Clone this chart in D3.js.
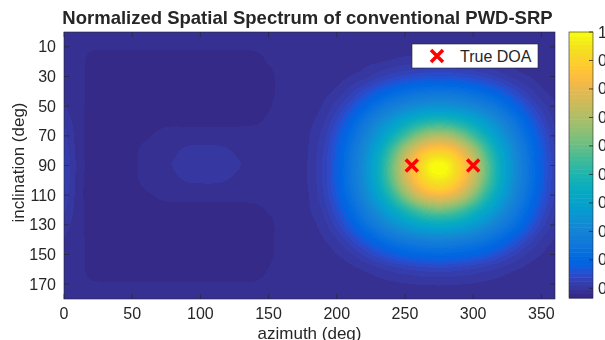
<!DOCTYPE html>
<html>
<head>
<meta charset="utf-8">
<script src="https://cdn.jsdelivr.net/npm/d3@7"></script>
<style>
  body { margin: 0; background: #fff; }
  #wrap { position: relative; width: 605px; height: 340px; overflow: hidden; }
  #heat { position: absolute; }
  svg { position: absolute; left: 0; top: 0; }
  text { font-family: "Liberation Sans", Arial, Helvetica, sans-serif; fill: #262626; }
</style>
</head>
<body>
<div id="wrap"><canvas id="heat"></canvas><svg width="605" height="340"></svg></div>
<script>
// grid the spectrum was read on (deg)
const azimuth = [0, 10, 20, 30, 40, 50, 60, 70, 80, 90, 100, 110, 120, 130, 140, 150, 160, 170, 180,
  190, 200, 210, 220, 230, 240, 250, 260, 270, 280, 290, 300, 310, 320, 330, 340, 350, 360];
const inclination = [0, 10, 20, 30, 40, 50, 60, 70, 80, 90, 100, 110, 120, 130, 140, 150, 160, 170, 180];

// normalized spectrum, one row per inclination, one column per azimuth
const spectrum = [
  [.086, .087,.087,.087,.087,.087,.087,.087,.087,.087,.087,.087,.087,.087,.087,.087,.087, .087,
   .086,.086,.086,.086,.086,.086,.086,.086,.086,.086,.086,.086,.086,.086,.086,.086,.086,.086,.086],
  [.086, .088,.083,.083,.083,.083,.083,.083,.083,.083,.083,.083,.083,.083,.083,.085,.087, .087,
   .086,.086,.086,.086,.086,.087,.088,.088,.089,.089,.089,.089,.088,.088,.087,.086,.086,.086,.086],
  [.086, .088,.074,.072,.072,.072,.072,.072,.072,.072,.072,.072,.072,.072,.074,.082,.087, .087,
   .086,.086,.086,.087,.091,.094,.098,.103,.105,.107,.107,.105,.103,.098,.094,.091,.087,.086,.086],
  [.086, .088,.074,.072,.072,.072,.072,.072,.072,.072,.072,.072,.072,.072,.072,.075,.087, .087,
   .086,.086,.089,.096,.105,.120,.134,.144,.153,.157,.157,.153,.144,.134,.120,.105,.096,.089,.086],
  [.090, .088,.074,.072,.072,.072,.072,.072,.072,.072,.072,.072,.072,.072,.072,.075,.087, .087,
   .086,.090,.099,.119,.145,.174,.200,.221,.235,.242,.242,.235,.221,.200,.174,.145,.119,.099,.090],
  [.097, .088,.074,.072,.072,.072,.072,.072,.072,.072,.072,.072,.072,.072,.073,.079,.087, .088,
   .088,.097,.118,.152,.194,.238,.275,.307,.330,.344,.344,.330,.307,.275,.238,.194,.152,.118,.097],
  [.106, .089,.074,.072,.072,.072,.074,.076,.076,.076,.076,.076,.076,.076,.078,.083,.087, .087,
   .092,.106,.141,.190,.248,.305,.366,.424,.473,.502,.502,.473,.424,.366,.305,.248,.190,.141,.106],
  [.117, .089,.074,.072,.072,.074,.078,.084,.089,.089,.089,.089,.089,.089,.088,.087,.087, .087,
   .095,.117,.161,.220,.287,.366,.456,.554,.645,.700,.700,.645,.554,.456,.366,.287,.220,.161,.117],
  [.124, .090,.074,.072,.072,.076,.086,.089,.093,.097,.098,.098,.096,.092,.089,.088,.087, .088,
   .097,.124,.175,.241,.320,.421,.548,.695,.813,.878,.878,.813,.695,.548,.421,.320,.241,.175,.124],
  [.128, .091,.075,.072,.072,.076,.088,.091,.0955,.099,.101,.101,.099,.095,.091,.089,.088, .088,
   .098,.128,.179,.249,.334,.447,.597,.766,.895,.990,.990,.895,.766,.597,.447,.334,.249,.179,.128],
  [.127, .090,.074,.072,.072,.076,.086,.089,.092,.096,.097,.097,.095,.091,.089,.088,.087, .088,
   .098,.127,.179,.248,.330,.442,.584,.744,.870,.947,.947,.870,.744,.584,.442,.330,.248,.179,.127],
  [.123, .089,.074,.072,.072,.074,.078,.083,.086,.086,.086,.086,.086,.086,.085,.085,.087, .088,
   .096,.123,.170,.235,.309,.403,.515,.645,.757,.818,.818,.757,.645,.515,.403,.309,.235,.170,.123],
  [.113, .089,.074,.073,.073,.073,.075,.075,.075,.075,.075,.075,.075,.075,.077,.082,.087, .087,
   .094,.113,.153,.209,.272,.340,.420,.498,.568,.611,.611,.568,.498,.420,.340,.272,.209,.153,.113],
  [.103, .088,.074,.072,.072,.072,.072,.072,.072,.072,.072,.072,.072,.072,.072,.076,.087, .087,
   .090,.103,.132,.176,.228,.279,.328,.375,.414,.433,.433,.414,.375,.328,.279,.228,.176,.132,.103],
  [.094, .088,.074,.072,.072,.072,.072,.072,.072,.072,.072,.072,.072,.072,.072,.076,.087, .087,
   .087,.094,.109,.137,.173,.210,.244,.270,.287,.298,.298,.287,.270,.244,.210,.173,.137,.109,.094],
  [.088, .088,.074,.072,.072,.072,.072,.072,.072,.072,.072,.072,.072,.072,.072,.077,.087, .087,
   .086,.088,.095,.107,.127,.150,.172,.189,.200,.206,.206,.200,.189,.172,.150,.127,.107,.095,.088],
  [.086, .088,.074,.072,.072,.072,.072,.072,.072,.072,.072,.072,.072,.072,.074,.081,.087, .087,
   .086,.086,.087,.091,.097,.106,.115,.123,.129,.133,.133,.129,.123,.115,.106,.097,.091,.087,.086],
  [.086, .088,.083,.082,.082,.082,.082,.082,.082,.082,.082,.082,.082,.082,.082,.085,.087, .087,
   .086,.086,.086,.086,.088,.090,.092,.094,.096,.097,.097,.096,.094,.092,.090,.088,.086,.086,.086],
  [.086, .087,.087,.087,.087,.087,.087,.087,.087,.087,.087,.087,.087,.087,.087,.087,.087, .087,
   .086,.086,.086,.086,.086,.086,.086,.086,.087,.087,.087,.087,.086,.086,.086,.086,.086,.086,.086]
];

const trueDOA = [{ az: 255, inc: 90 }, { az: 300, inc: 90 }];

const xTicks = [0, 50, 100, 150, 200, 250, 300, 350];
const yTicks = [10, 30, 50, 70, 90, 110, 130, 150, 170];
const cbTicks = [0.1, 0.2, 0.3, 0.4, 0.5, 0.6, 0.7, 0.8, 0.9, 1];
const cLimits = [0.066, 1];

// parula, 64 levels
const parula = ["#352a87","#363093","#3637a0","#353dad","#3243ba","#2c4ac7","#2053d4","#0f5cdd",
  "#0363e1","#0268e1","#046de0","#0871de","#0d75dc","#1079da","#127dd8","#1481d6",
  "#1485d4","#1389d3","#108ed2","#0c93d2","#0998d1","#079ccf","#06a0cd","#06a4ca",
  "#06a7c6","#07a9c2","#0aacbe","#0faeb9","#15b1b4","#1db3af","#25b5a9","#2eb7a4",
  "#38b99e","#42bb98","#4dbc92","#59bd8c","#65be86","#71bf80","#7cbf7b","#87bf77",
  "#92bf73","#9cbf6f","#a5be6b","#aebe67","#b7bd64","#c0bc60","#c8bc5d","#d1bb59",
  "#d9ba56","#e1b952","#e9b94e","#f1b94a","#f8bb44","#fdbe3d","#ffc337","#fec832",
  "#fcce2e","#fad32a","#f7d826","#f5de21","#f5e41d","#f5eb18","#f6f313","#f9fb0e"];

const pl = 64, pr = 555, pt = 32, pb = 299;
const x = d3.scaleLinear().domain([0, 360]).range([pl, pr]);
const y = d3.scaleLinear().domain([0, 180]).range([pt, pb]);
const color = d3.scaleQuantize().domain(cLimits).range(parula);

// heat map: bicubic resample of the grid, azimuth wraps around
const nCol = azimuth.length - 1, nRow = inclination.length;
const step = azimuth[1] - azimuth[0], istep = inclination[1] - inclination[0];
function cell(i, j) {
  i = ((i % nCol) + nCol) % nCol;
  j = Math.max(0, Math.min(nRow - 1, j));
  return spectrum[j][i];
}
function cr(p0, p1, p2, p3, t) {
  return p1 + 0.5 * t * (p2 - p0 + t * (2 * p0 - 5 * p1 + 4 * p2 - p3 + t * (3 * (p1 - p2) + p3 - p0)));
}
function sample(az, inc) {
  const gi = az / step, gj = inc / istep;
  const i = Math.floor(gi), j = Math.floor(gj);
  const t = gi - i, u = gj - j;
  const rows = [-1, 0, 1, 2].map(dj =>
    cr(cell(i - 1, j + dj), cell(i, j + dj), cell(i + 1, j + dj), cell(i + 2, j + dj), t));
  return cr(rows[0], rows[1], rows[2], rows[3], u);
}

const w = pr - pl, h = pb - pt;
const canvas = d3.select("#heat")
  .attr("width", w).attr("height", h)
  .style("left", pl + "px").style("top", pt + "px");
const ctx = canvas.node().getContext("2d");
const img = ctx.createImageData(w, h);
for (let py = 0; py < h; py++) {
  const inc = y.invert(pt + py + 0.5);
  for (let px = 0; px < w; px++) {
    const az = x.invert(pl + px + 0.5);
    const v = Math.min(cLimits[1], Math.max(cLimits[0], sample(az, inc)));
    const c = d3.rgb(color(v));
    const k = (py * w + px) * 4;
    img.data[k] = c.r; img.data[k + 1] = c.g; img.data[k + 2] = c.b; img.data[k + 3] = 255;
  }
}
ctx.putImageData(img, 0, 0);

const svg = d3.select("svg");
const axisColor = "#262626";

// box and inward ticks
svg.append("rect")
  .attr("x", pl).attr("y", pt).attr("width", w).attr("height", h)
  .attr("fill", "none").attr("stroke", axisColor).attr("stroke-width", 0.6);

const tickLen = 5;
svg.append("g").selectAll("path").data(xTicks).join("path")
  .attr("d", d => `M${x(d)},${pb}v${-tickLen}M${x(d)},${pt}v${tickLen}`)
  .attr("stroke", axisColor).attr("stroke-width", 0.6);
svg.append("g").selectAll("path").data(yTicks).join("path")
  .attr("d", d => `M${pl},${y(d)}h${tickLen}M${pr},${y(d)}h${-tickLen}`)
  .attr("stroke", axisColor).attr("stroke-width", 0.6);

svg.append("g").selectAll("text").data(xTicks).join("text")
  .attr("x", d => x(d)).attr("y", 319)
  .attr("text-anchor", "middle").attr("font-size", 16)
  .text(d => d);
svg.append("g").selectAll("text").data(yTicks).join("text")
  .attr("x", 56).attr("y", d => y(d) + 5.5)
  .attr("text-anchor", "end").attr("font-size", 16)
  .text(d => d);

svg.append("text")
  .attr("x", (pl + pr) / 2).attr("y", 339)
  .attr("text-anchor", "middle").attr("font-size", 17)
  .text("azimuth (deg)");
svg.append("text")
  .attr("transform", `translate(24,${(pt + pb) / 2 - 3}) rotate(-90)`)
  .attr("text-anchor", "middle").attr("font-size", 17)
  .text("inclination (deg)");

svg.append("text")
  .attr("x", (pl + pr) / 2 - 2).attr("y", 24)
  .attr("text-anchor", "middle").attr("font-size", 18.5).attr("font-weight", "bold")
  .attr("fill", "#000")
  .text("Normalized Spatial Spectrum of conventional PWD-SRP");

// true DOA markers
const cross = (cx, cy, r) => `M${cx - r},${cy - r}L${cx + r},${cy + r}M${cx - r},${cy + r}L${cx + r},${cy - r}`;
svg.append("g").selectAll("path").data(trueDOA).join("path")
  .attr("d", d => cross(x(d.az), y(d.inc), 6))
  .attr("stroke", "#ff0000").attr("stroke-width", 3.5).attr("fill", "none");

// legend
const lg = svg.append("g").attr("transform", "translate(412,44)");
lg.append("rect").attr("width", 126).attr("height", 24)
  .attr("fill", "#fff").attr("stroke", axisColor).attr("stroke-width", 0.6);
lg.append("path").attr("d", cross(25, 12, 6))
  .attr("stroke", "#ff0000").attr("stroke-width", 3.5).attr("fill", "none");
lg.append("text").attr("x", 48).attr("y", 18).attr("font-size", 16).attr("fill", "#000").text("True DOA");

// colorbar
const cbX = 569, cbW = 24;
const cy = d3.scaleLinear().domain(cLimits).range([298, 32]);
const lvl = (cLimits[1] - cLimits[0]) / parula.length;
svg.append("g").selectAll("rect").data(parula).join("rect")
  .attr("x", cbX).attr("width", cbW)
  .attr("y", (d, i) => cy(cLimits[0] + (i + 1) * lvl))
  .attr("height", (d, i) => cy(cLimits[0] + i * lvl) - cy(cLimits[0] + (i + 1) * lvl) + 0.5)
  .attr("fill", d => d);
svg.append("rect")
  .attr("x", cbX).attr("y", cy(cLimits[1])).attr("width", cbW).attr("height", cy(cLimits[0]) - cy(cLimits[1]))
  .attr("fill", "none").attr("stroke", axisColor).attr("stroke-width", 0.6);
svg.append("g").selectAll("path").data(cbTicks).join("path")
  .attr("d", d => `M${cbX + cbW},${cy(d)}h-4`)
  .attr("stroke", axisColor).attr("stroke-width", 0.8);
svg.append("g").selectAll("text").data(cbTicks).join("text")
  .attr("x", cbX + cbW + 5).attr("y", d => cy(d) + 5.5)
  .attr("font-size", 16)
  .text(d => d);
</script>
</body>
</html>
